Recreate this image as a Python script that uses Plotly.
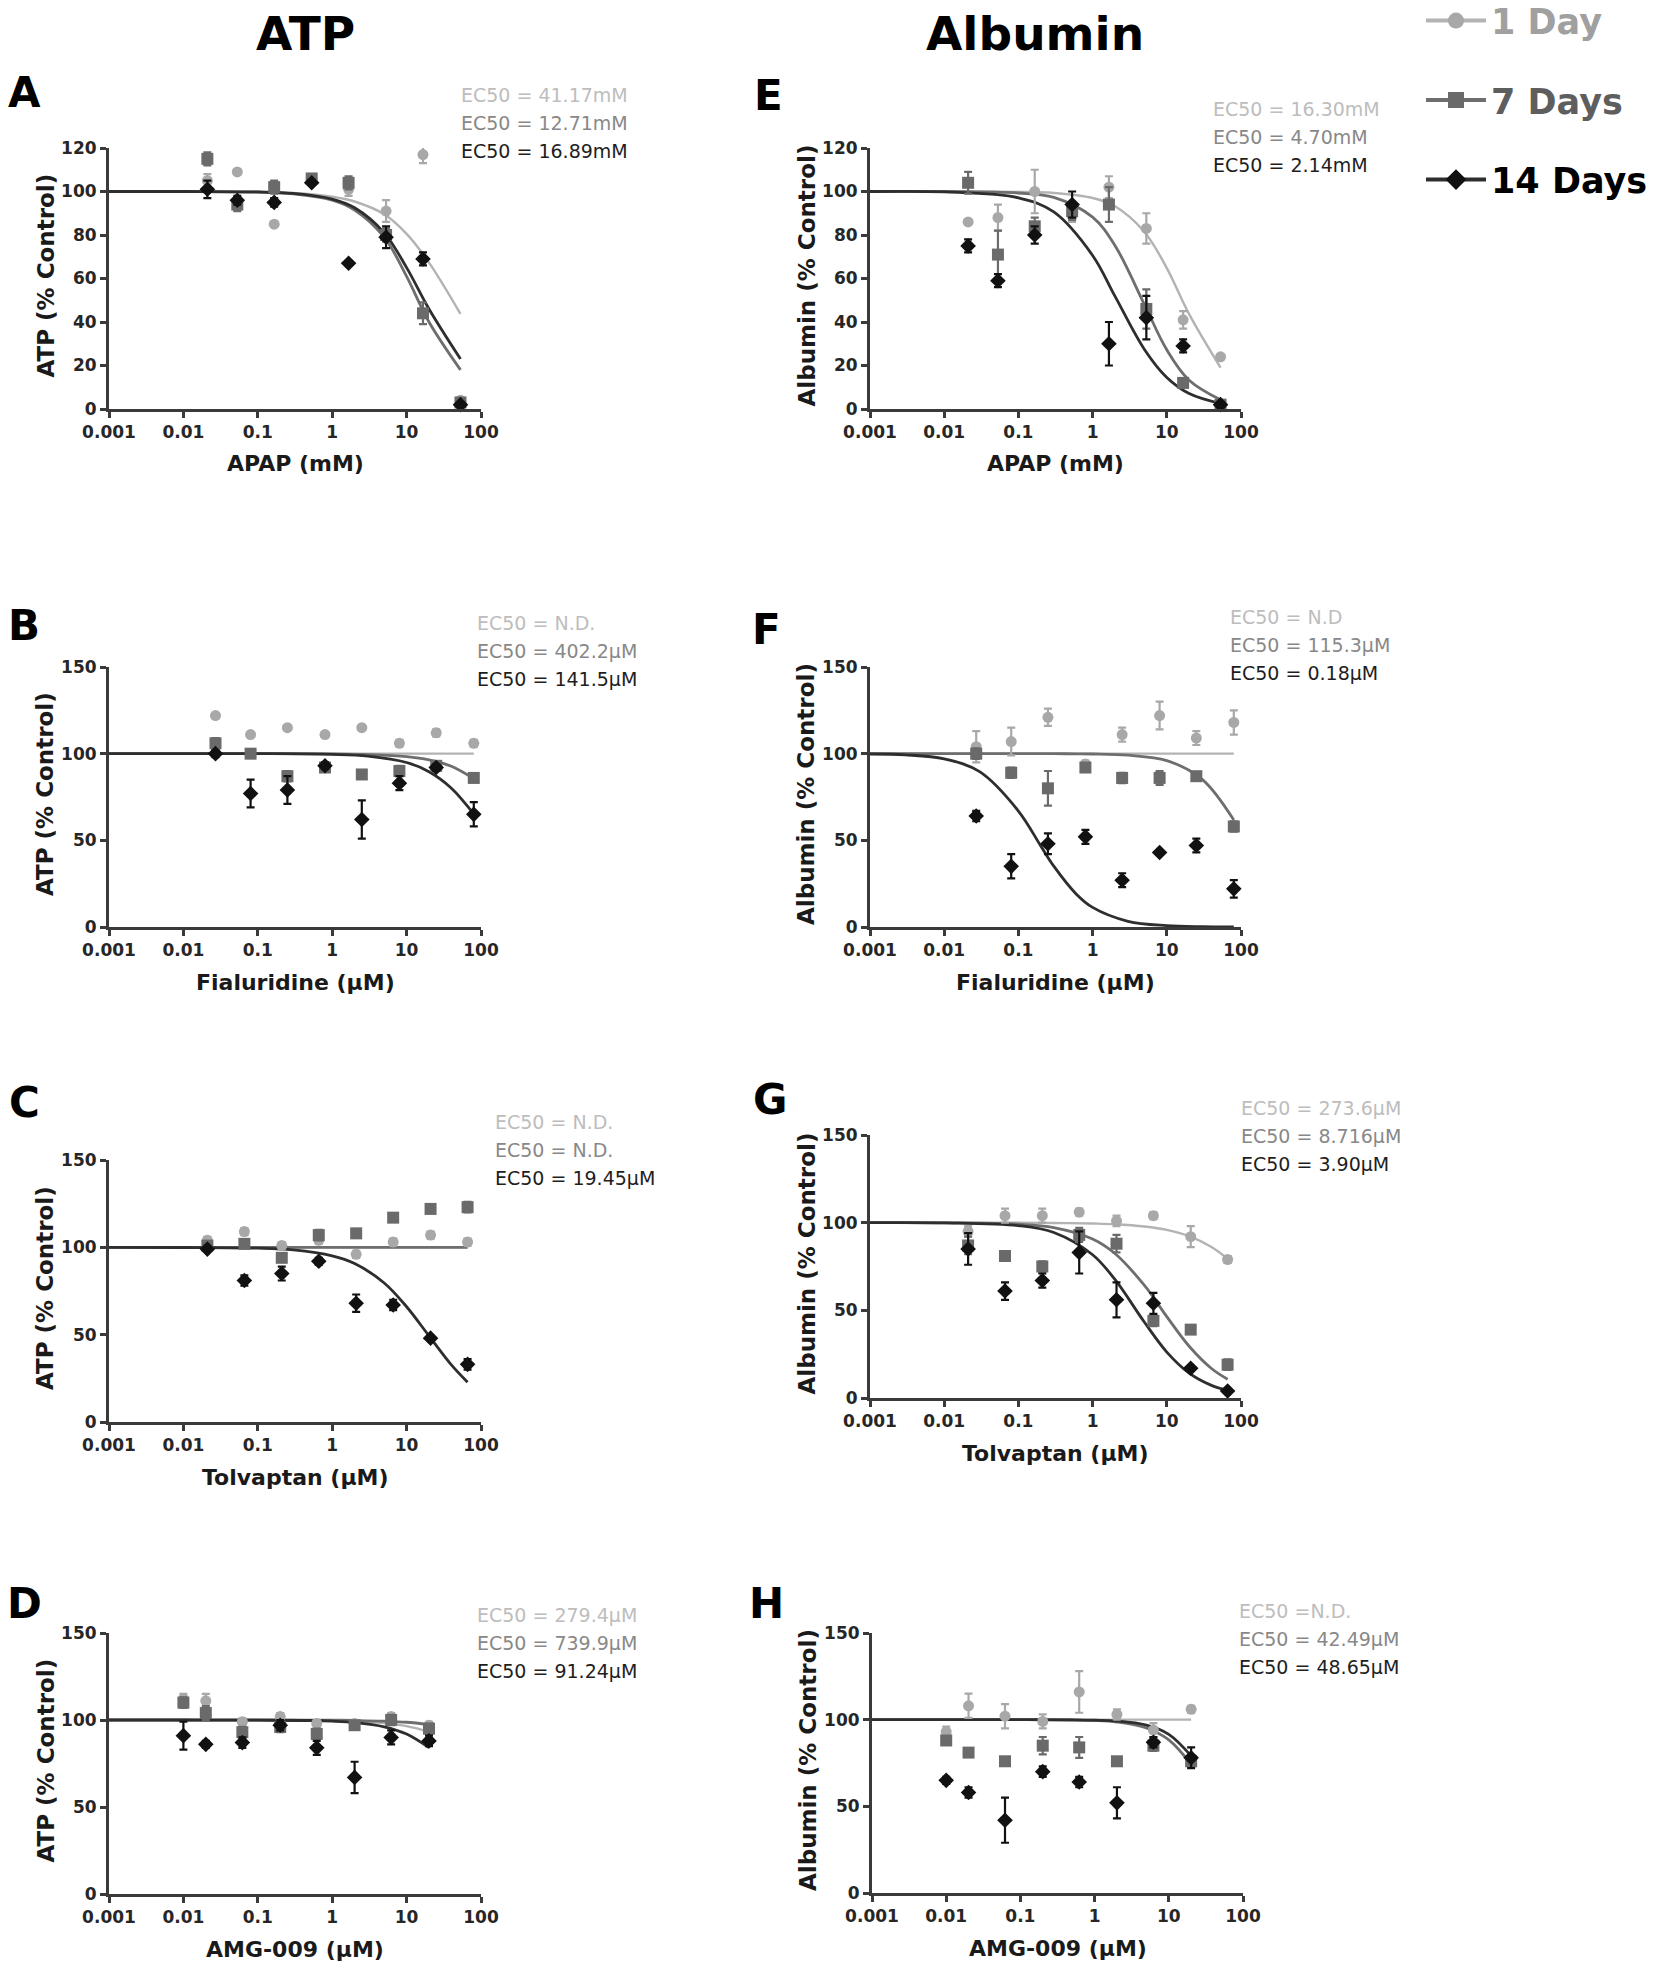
import plotly.graph_objects as go

W, H = 1654, 1969

# ---------------- data ----------------
SERIES = ["1 Day", "7 Days", "14 Days"]

# Panel A: ATP vs APAP (mM)
A_conc = [0.021, 0.053, 0.166, 0.53, 1.66, 5.3, 16.6, 53]
A_day1 = [105, 109, 85, 106, 101, 91, 117, 4]
A_day7 = [115, 94, 102, 106, 104, 80, 44, 3]
A_day14 = [101, 96, 95, 104, 67, 79, 69, 2]
A_err1 = [3, 1, 1, 2, 3, 5, 4, 1]
A_err7 = [3, 3, 3, 2, 3, 3, 5, 1]
A_err14 = [4, 2, 2, 1, 1, 5, 3, 1]
A_fit_x = [0.001, 0.01, 0.1, 0.3, 1, 2, 5, 10, 20, 53]
A_fit1 = [100, 100, 99.8, 99.3, 97.6, 95.4, 89.5, 80.5, 67.3, 43.7]
A_fit7 = [100, 100, 99.7, 98.9, 96.0, 91.5, 79.0, 61.0, 40.0, 18.0]
A_fit14 = [100, 100, 99.8, 99.1, 96.5, 92.5, 81.0, 65.0, 46.0, 23.0]
A_ec50 = ["EC50 = 41.17mM", "EC50 = 12.71mM", "EC50 = 16.89mM"]

# Panel E: Albumin vs APAP (mM)
E_conc = [0.021, 0.053, 0.166, 0.53, 1.66, 5.3, 16.6, 53]
E_day1 = [86, 88, 100, 89, 102, 83, 41, 24]
E_day7 = [104, 71, 84, 91, 94, 46, 12, 2]
E_day14 = [75, 59, 80, 94, 30, 42, 29, 2]
E_err1 = [1, 6, 10, 3, 5, 7, 4, 1]
E_err7 = [5, 11, 4, 4, 8, 9, 2, 1]
E_err14 = [3, 3, 4, 6, 10, 10, 3, 1]
E_fit_x = [0.001, 0.01, 0.1, 0.3, 1, 2, 5, 10, 20, 53]
E_fit1 = [100, 100, 99.8, 99.3, 97.0, 93.2, 81.4, 64.8, 43.6, 19.0]
E_fit7 = [100, 100, 99.3, 97.3, 88.2, 75.2, 48.0, 27.2, 13.2, 4.2]
E_fit14 = [100, 99.8, 97.1, 90.6, 70.6, 51.9, 27.4, 14.5, 7.1, 2.5]
E_ec50 = ["EC50 = 16.30mM", "EC50 = 4.70mM", "EC50 = 2.14mM"]

# Panel B: ATP vs Fialuridine (uM)
B_conc = [0.027, 0.08, 0.25, 0.8, 2.5, 8, 25, 80]
B_day1 = [122, 111, 115, 111, 115, 106, 112, 106]
B_day7 = [106, 100, 87, 92, 88, 90, 93, 86]
B_day14 = [100, 77, 79, 93, 62, 83, 92, 65]
B_err1 = [1, 1, 1, 1, 1, 2, 2, 2]
B_err7 = [3, 2, 3, 2, 2, 3, 2, 2]
B_err14 = [2, 8, 8, 2, 11, 4, 2, 7]
B_fit_x = [0.001, 0.01, 0.1, 1, 3, 10, 20, 40, 80]
B_fit1 = [100, 100, 100, 100, 100, 100, 100, 100, 100]
B_fit7 = [100, 100, 100, 99.9, 99.5, 98.3, 96.4, 92.7, 85.5]
B_fit14 = [100, 100, 100, 99.6, 98.6, 94.9, 89.6, 80.1, 65.2]
B_ec50 = ["EC50 = N.D.", "EC50 = 402.2µM", "EC50 = 141.5µM"]

# Panel F: Albumin vs Fialuridine (uM)
F_conc = [0.027, 0.08, 0.25, 0.8, 2.5, 8, 25, 80]
F_day1 = [104, 107, 121, 94, 111, 122, 109, 118]
F_day7 = [100, 89, 80, 92, 86, 86, 87, 58]
F_day14 = [64, 35, 48, 52, 27, 43, 47, 22]
F_err1 = [9, 8, 5, 2, 4, 8, 4, 7]
F_err7 = [3, 3, 10, 2, 3, 4, 2, 3]
F_err14 = [3, 7, 6, 4, 4, 1, 4, 5]
F_fit_x = [0.001, 0.003, 0.01, 0.03, 0.1, 0.2, 0.3, 0.6, 1, 3, 10, 30, 80]
F_fit1 = [100, 100, 100, 100, 100, 100, 100, 100, 100, 100, 100, 100, 100]
F_fit7 = [100, 100, 100, 100, 100, 100, 100, 99.9, 99.8, 99.1, 96.0, 85.2, 61.7]
F_fit14 = [99.8, 99.3, 97.0, 89.6, 66.9, 46.8, 35.1, 19.1, 11.3, 3.3, 0.8, 0.2, 0.1]
F_ec50 = ["EC50 = N.D", "EC50 = 115.3µM", "EC50 = 0.18µM"]

# Panel C: ATP vs Tolvaptan (uM)
C_conc = [0.021, 0.066, 0.21, 0.66, 2.1, 6.6, 21, 66]
C_day1 = [104, 109, 101, 104, 96, 103, 107, 103]
C_day7 = [101, 102, 94, 107, 108, 117, 122, 123]
C_day14 = [99, 81, 85, 92, 68, 67, 48, 33]
C_err1 = [2, 2, 2, 2, 2, 2, 2, 2]
C_err7 = [2, 2, 2, 3, 2, 2, 2, 3]
C_err14 = [1, 3, 4, 2, 5, 3, 1, 3]
C_fit_x = [0.001, 0.01, 0.1, 0.3, 1, 2, 5, 10, 20, 40, 66]
C_fit1 = [100, 100, 100, 100, 100, 100, 100, 100, 100, 100, 100]
C_fit7 = [100, 100, 100, 100, 100, 100, 100, 100, 100, 100, 100]
C_fit14 = [100, 99.9, 99.5, 98.5, 95.1, 90.7, 79.6, 66.0, 49.3, 32.7, 22.8]
C_ec50 = ["EC50 = N.D.", "EC50 = N.D.", "EC50 = 19.45µM"]

# Panel G: Albumin vs Tolvaptan (uM)
G_conc = [0.021, 0.066, 0.21, 0.66, 2.1, 6.6, 21, 66]
G_day1 = [95, 104, 104, 106, 101, 104, 92, 79]
G_day7 = [87, 81, 75, 93, 88, 44, 39, 19]
G_day14 = [85, 61, 67, 83, 56, 54, 17, 4]
G_err1 = [3, 4, 4, 2, 3, 2, 6, 2]
G_err7 = [5, 2, 3, 4, 5, 3, 2, 3]
G_err14 = [9, 5, 4, 12, 10, 6, 1, 1]
G_fit_x = [0.001, 0.01, 0.1, 0.3, 1, 2, 5, 10, 20, 40, 66]
G_fit1 = [100, 100, 99.95, 99.85, 99.5, 99.1, 97.8, 95.9, 92.3, 86.1, 79.4]
G_fit7 = [100, 99.9, 99.1, 97.2, 90.7, 82.4, 64.2, 46.4, 29.5, 16.8, 10.7]
G_fit14 = [100, 99.9, 98.3, 94.4, 81.7, 67.6, 43.2, 26.2, 14.2, 7.2, 4.3]
G_ec50 = ["EC50 = 273.6µM", "EC50 = 8.716µM", "EC50 = 3.90µM"]

# Panel D: ATP vs AMG-009 (uM)
D_conc = [0.01, 0.02, 0.062, 0.2, 0.62, 2, 6.2, 20]
D_day1 = [112, 111, 99, 102, 98, 98, 102, 97]
D_day7 = [110, 104, 93, 96, 92, 97, 100, 95]
D_day14 = [91, 86, 87, 97, 84, 67, 90, 88]
D_err1 = [3, 4, 2, 2, 2, 2, 2, 2]
D_err7 = [3, 4, 3, 3, 3, 2, 3, 3]
D_err14 = [8, 2, 3, 3, 4, 9, 4, 3]
D_fit_x = [0.001, 0.01, 0.1, 0.5, 1, 2, 5, 10, 20]
D_fit1 = [100, 100, 99.96, 99.8, 99.6, 99.3, 98.2, 96.5, 93.3]
D_fit7 = [100, 100, 100, 99.9, 99.9, 99.7, 99.3, 98.7, 97.4]
D_fit14 = [100, 100, 99.9, 99.7, 99.3, 98.5, 96.1, 91.9, 84.1]
D_ec50 = ["EC50 = 279.4µM", "EC50 = 739.9µM", "EC50 = 91.24µM"]

# Panel H: Albumin vs AMG-009 (uM)
H_conc = [0.01, 0.02, 0.062, 0.2, 0.62, 2, 6.2, 20]
H_day1 = [93, 108, 102, 99, 116, 103, 94, 106]
H_day7 = [88, 81, 76, 85, 84, 76, 85, 76]
H_day14 = [65, 58, 42, 70, 64, 52, 87, 78]
H_err1 = [3, 7, 7, 4, 12, 3, 4, 2]
H_err7 = [2, 2, 2, 5, 6, 2, 3, 3]
H_err14 = [2, 3, 13, 3, 3, 9, 3, 6]
H_fit_x = [0.001, 0.01, 0.1, 0.5, 1, 2, 5, 10, 20]
H_fit1 = [100, 100, 100, 100, 100, 100, 100, 100, 100]
H_fit7 = [100, 100, 100, 99.8, 99.5, 98.6, 95.2, 88.3, 74.2]
H_fit14 = [100, 100, 100, 99.9, 99.7, 99.2, 96.8, 91.5, 79.1]
H_ec50 = ["EC50 =N.D.", "EC50 = 42.49µM", "EC50 = 48.65µM"]

X_TICKVALS = [0.001, 0.01, 0.1, 1, 10, 100]
X_TICKTEXT = ["0.001", "0.01", "0.1", "1", "10", "100"]
Y_TICKS_120 = [0, 20, 40, 60, 80, 100, 120]
Y_TICKS_150 = [0, 50, 100, 150]

# ---------------- styling ----------------
FONT = "DejaVu Sans, Verdana, sans-serif"
MARKER_COL = ["#a8a8a8", "#6a6a6a", "#111111"]
LINE_COL = ["#b3b3b3", "#6e6e6e", "#2e2e2e"]
LINE_W = [2.4, 2.8, 2.8]
SYMBOLS = ["circle", "square", "diamond"]
SIZES = [11, 12, 12]
EC50_COL = ["#bdbdbd", "#888888", "#1e1e1e"]
LEGEND_TXT_COL = ["#a0a0a0", "#5e5e5e", "#000000"]

LEFT_X = (109, 481)
RIGHT_X = (870, 1241)

panels = [
    dict(conc=A_conc, vals=(A_day1, A_day7, A_day14), errs=(A_err1, A_err7, A_err14),
         fitx=A_fit_x, fits=(A_fit1, A_fit7, A_fit14), ec50=A_ec50,
         xtitle="APAP (mM)", ytitle="ATP (% Control)", ymax=120, yt=Y_TICKS_120,
         xd=LEFT_X, yd=(148, 409), letter="A", lpos=(24, 93), epos=(459, 95)),
    dict(conc=E_conc, vals=(E_day1, E_day7, E_day14), errs=(E_err1, E_err7, E_err14),
         fitx=E_fit_x, fits=(E_fit1, E_fit7, E_fit14), ec50=E_ec50,
         xtitle="APAP (mM)", ytitle="Albumin (% Control)", ymax=120, yt=Y_TICKS_120,
         xd=RIGHT_X, yd=(148, 409), letter="E", lpos=(768, 96), epos=(1211, 109)),
    dict(conc=B_conc, vals=(B_day1, B_day7, B_day14), errs=(B_err1, B_err7, B_err14),
         fitx=B_fit_x, fits=(B_fit1, B_fit7, B_fit14), ec50=B_ec50,
         xtitle="Fialuridine (µM)", ytitle="ATP (% Control)", ymax=150, yt=Y_TICKS_150,
         xd=LEFT_X, yd=(667, 927), letter="B", lpos=(24, 626), epos=(475, 623)),
    dict(conc=F_conc, vals=(F_day1, F_day7, F_day14), errs=(F_err1, F_err7, F_err14),
         fitx=F_fit_x, fits=(F_fit1, F_fit7, F_fit14), ec50=F_ec50,
         xtitle="Fialuridine (µM)", ytitle="Albumin (% Control)", ymax=150, yt=Y_TICKS_150,
         xd=RIGHT_X, yd=(667, 927), letter="F", lpos=(766, 630), epos=(1228, 617)),
    dict(conc=C_conc, vals=(C_day1, C_day7, C_day14), errs=(C_err1, C_err7, C_err14),
         fitx=C_fit_x, fits=(C_fit1, C_fit7, C_fit14), ec50=C_ec50,
         xtitle="Tolvaptan (µM)", ytitle="ATP (% Control)", ymax=150, yt=Y_TICKS_150,
         xd=LEFT_X, yd=(1160, 1422), letter="C", lpos=(24, 1102), epos=(493, 1122)),
    dict(conc=G_conc, vals=(G_day1, G_day7, G_day14), errs=(G_err1, G_err7, G_err14),
         fitx=G_fit_x, fits=(G_fit1, G_fit7, G_fit14), ec50=G_ec50,
         xtitle="Tolvaptan (µM)", ytitle="Albumin (% Control)", ymax=150, yt=Y_TICKS_150,
         xd=RIGHT_X, yd=(1135, 1398), letter="G", lpos=(770, 1099), epos=(1239, 1108)),
    dict(conc=D_conc, vals=(D_day1, D_day7, D_day14), errs=(D_err1, D_err7, D_err14),
         fitx=D_fit_x, fits=(D_fit1, D_fit7, D_fit14), ec50=D_ec50,
         xtitle="AMG-009 (µM)", ytitle="ATP (% Control)", ymax=150, yt=Y_TICKS_150,
         xd=LEFT_X, yd=(1633, 1894), letter="D", lpos=(24, 1603), epos=(475, 1615)),
    dict(conc=H_conc, vals=(H_day1, H_day7, H_day14), errs=(H_err1, H_err7, H_err14),
         fitx=H_fit_x, fits=(H_fit1, H_fit7, H_fit14), ec50=H_ec50,
         xtitle="AMG-009 (µM)", ytitle="Albumin (% Control)", ymax=150, yt=Y_TICKS_150,
         xd=(872, 1243), yd=(1633, 1893), letter="H", lpos=(766, 1603), epos=(1237, 1611)),
]


def px(x):
    return x / W


def py(y):
    return 1 - y / H


fig = go.Figure()
annotations = []
layout_axes = {}

for i, p in enumerate(panels):
    n = i + 1
    xa = "x" if n == 1 else f"x{n}"
    ya = "y" if n == 1 else f"y{n}"
    for s in range(3):
        fig.add_trace(go.Scatter(
            x=p["fitx"], y=p["fits"][s], mode="lines", xaxis=xa, yaxis=ya,
            line=dict(color=LINE_COL[s], width=LINE_W[s], shape="spline", smoothing=1.0),
            showlegend=False, hoverinfo="skip", cliponaxis=False))
    for s in range(3):
        fig.add_trace(go.Scatter(
            x=p["conc"], y=p["vals"][s], mode="markers", xaxis=xa, yaxis=ya,
            name=SERIES[s], showlegend=False, cliponaxis=False,
            marker=dict(symbol=SYMBOLS[s], size=SIZES[s], color=MARKER_COL[s]),
            error_y=dict(type="data", array=p["errs"][s], color=MARKER_COL[s],
                         thickness=2.2, width=4)))
    axis_common = dict(showline=True, linewidth=3, linecolor="#3a3a3a",
                       ticks="outside", ticklen=6, tickwidth=2.5, tickcolor="#3a3a3a",
                       showgrid=False, zeroline=False, automargin=False,
                       tickfont=dict(family=FONT, size=17, color="#262626", weight="bold"))
    layout_axes["xaxis" if n == 1 else f"xaxis{n}"] = dict(
        axis_common, type="log", range=[-3, 2], domain=[px(p["xd"][0]), px(p["xd"][1])],
        anchor=ya, tickvals=X_TICKVALS, ticktext=X_TICKTEXT)
    layout_axes["yaxis" if n == 1 else f"yaxis{n}"] = dict(
        axis_common, range=[0, p["ymax"]], domain=[py(p["yd"][1]), py(p["yd"][0])],
        anchor=xa, tickvals=p["yt"])
    xc = (p["xd"][0] + p["xd"][1]) / 2
    annotations.append(dict(x=px(xc), y=py(p["yd"][1] + 55), xref="paper", yref="paper",
                            text=p["xtitle"], showarrow=False, xanchor="center", yanchor="middle",
                            font=dict(family=FONT, size=22, color="#1a1a1a", weight="bold")))
    yc = (p["yd"][0] + p["yd"][1]) / 2
    annotations.append(dict(x=px(p["xd"][0] - 64), y=py(yc - 3), xref="paper", yref="paper",
                            text=p["ytitle"], showarrow=False, textangle=-90,
                            xanchor="center", yanchor="middle",
                            font=dict(family=FONT, size=23, color="#1a1a1a", weight="bold")))
    annotations.append(dict(x=px(p["lpos"][0]), y=py(p["lpos"][1]), xref="paper", yref="paper",
                            text=p["letter"], showarrow=False, xanchor="center", yanchor="middle",
                            font=dict(family=FONT, size=42, color="#000000", weight="bold")))
    for s in range(3):
        annotations.append(dict(x=px(p["epos"][0]), y=py(p["epos"][1] + 28 * s),
                                xref="paper", yref="paper", text=p["ec50"][s], showarrow=False,
                                xanchor="left", yanchor="middle",
                                font=dict(family=FONT, size=19, color=EC50_COL[s])))

annotations.append(dict(x=px(305), y=py(33), xref="paper", yref="paper", text="ATP",
                        showarrow=False, xanchor="center", yanchor="middle",
                        font=dict(family=FONT, size=47, color="#000000", weight="bold")))
annotations.append(dict(x=px(1035), y=py(33), xref="paper", yref="paper", text="Albumin",
                        showarrow=False, xanchor="center", yanchor="middle",
                        font=dict(family=FONT, size=47, color="#000000", weight="bold")))

# legend entries (legend only, no data)
for s in range(3):
    fig.add_trace(go.Scatter(
        x=[None], y=[None], mode="lines+markers", xaxis="x", yaxis="y",
        name=f"<span style='color:{LEGEND_TXT_COL[s]}'><b>{SERIES[s]}</b></span>",
        legendgroup=SERIES[s], showlegend=True,
        line=dict(color=LINE_COL[s], width=4),
        marker=dict(symbol=SYMBOLS[s], size=16, color=MARKER_COL[s])))

fig.update_layout(
    width=W, height=H, margin=dict(l=0, r=0, t=0, b=0, autoexpand=False),
    paper_bgcolor="white", plot_bgcolor="white",
    font=dict(family=FONT),
    annotations=annotations,
    showlegend=True,
    legend=dict(x=px(1421), y=1.0044, xanchor="left", yanchor="top",
                font=dict(family=FONT, size=35), tracegroupgap=31,
                itemsizing="trace", itemwidth=60, bgcolor="rgba(0,0,0,0)"),
    **layout_axes,
)

fig.write_html("out.html",
               config={"displayModeBar": False},
               post_script="document.body.style.margin='0px';document.body.style.padding='0px';")
